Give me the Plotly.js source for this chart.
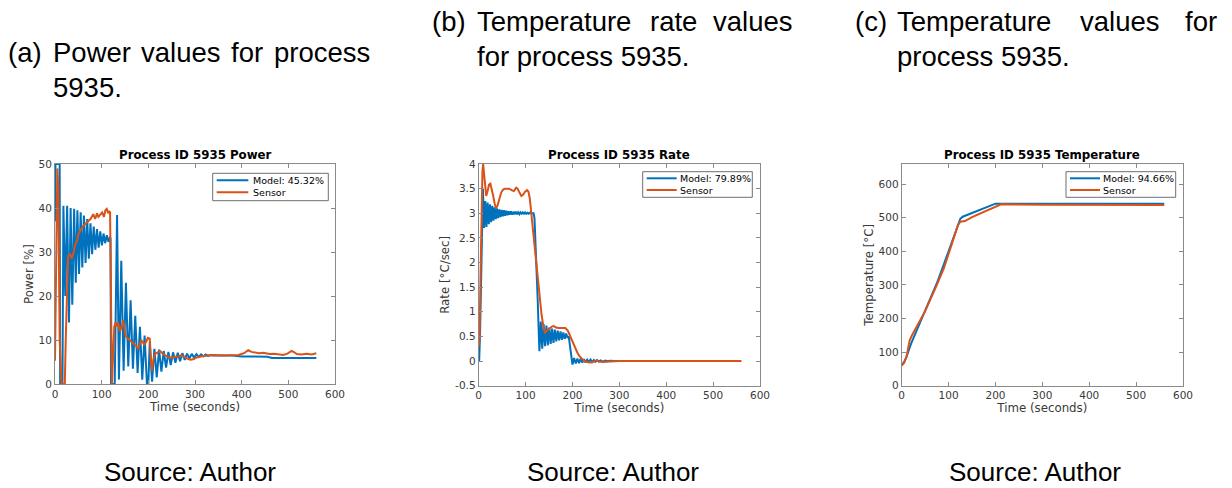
<!DOCTYPE html>
<html><head><meta charset="utf-8">
<script src="https://cdn.plot.ly/plotly-3.0.1.min.js"></script>
<style>html,body{margin:0;padding:0;background:#fff;}#chart{width:1232px;height:488px;}</style>
</head><body><div id="chart"></div>
<script>
// ---------- data ----------
const powerModelTime = [0,1,10,11,16,18,22,26,30,33.5,37,41,44.5,48,51.5,55,58.5,62,65.5,69,72.5,76,79.5,83,86.5,90,93.5,97,100.5,104,107.5,111,114.5,118,119,120,128,133,137,142,147,152,157,162,167,172,177,182,187,192,197,200,203,208,213,218,223,228,233,238,243,248,253,258,263,268,273,278,283,288,293,298,303,308,313,318,323,328,333,340,380,400,455,465,560];
const powerModelValue = [37,50,50,0,0,40.5,20,40.5,14,40,18,39.8,23,39.5,25,39,26.5,38.3,27.5,37.5,28.5,36.5,29.5,35.8,30.5,35.2,31,34.7,31.5,34.2,32,33.8,32.3,33.5,33,0,0,38.4,1,28,3,23,4,19,3.5,15.5,2.5,13,1,11,0,0,9.5,0.5,8,1.5,7.8,2.8,7.5,3.7,7.3,4.3,7.2,4.8,7.1,5.2,7.0,5.5,6.9,5.8,6.85,6.0,6.8,6.15,6.75,6.3,6.7,6.4,6.6,6.5,6.5,6.25,6.2,5.9,5.9];
const powerSensorTime = [0,3,5,7,10,14,21,23,26,28,32,36,40,43,47,50,55,61,66,71,76,82,86,90,93,97,101,105,108,111,114,116,118,122,124,127,130,132,135,139,143,146,149,151,155,160,165,171,175,178,182,185,188,191,195,199,203,207,211,215,218,225,230,236,243,250,257,264,270,276,282,290,296,305,315,325,340,361,380,393,405,414,421,428,437,446,453,460,470,478,489,498,507,513,518,528,539,550,560];
const powerSensorValue = [5.3,40,49,45,10,0,0,10,25,29,29.5,28.5,30,31.5,32.5,34,35,36,36.5,37,37.5,38.6,37.5,38.8,38,38.5,39,38,39.5,39.8,38.8,39.3,39,0,6,13,14,13,14,12,13,14.5,12.5,11,10.5,10,9.5,9,8.5,8,9,10,9.5,9,9.5,10.5,10.3,3,5.5,7,7,7.5,7,6.5,6.2,6,6.2,6.2,6.5,6.3,5.8,5.5,5.6,6.1,6.3,6.4,6.6,6.5,6.6,6.6,7.0,7.7,7.3,7.2,7.0,7.1,6.9,6.8,6.9,6.8,6.6,6.9,7.5,7.2,6.8,6.7,6.9,6.7,7.0];

const rateModelTime = [0,1,3,6,9,11.5,14,16.5,19,21.5,24,26.5,29,31.5,34,36.5,39,41.5,44,46.5,49,51.5,54,56.5,59,61.5,64,66.5,69,71.5,74,76.5,79,81.5,84,86.5,89,91.5,94,96.5,99,101.5,104,106.5,109,111.5,117,119,122,124,126,128,129.5,132.5,135.5,138.5,141.5,144.5,147.5,150.5,153.5,156.5,159.5,162.5,165.5,168.5,171.5,174.5,177.5,180.5,183.5,186.5,189.5,192,195,198,200,203.5,207,210.5,214,217.5,221,224.5,228,231.5,235,238.5,242,245.5,249,252.5,256,260,265,270,275,280,290,560];
const rateModelValue = [0.25,0,0.6,2.2,3.5,2.7,3.25,2.72,3.22,2.78,3.18,2.82,3.15,2.85,3.12,2.88,3.1,2.9,3.08,2.92,3.07,2.94,3.06,2.95,3.05,2.96,3.04,2.97,3.04,2.97,3.03,2.98,3.03,2.98,3.02,2.98,3.02,2.99,3.02,2.99,3.02,2.99,3.01,2.99,3.01,3.0,3.0,2.9,2.3,1.7,1.2,0.6,0.2,0.8,0.25,0.75,0.3,0.72,0.32,0.68,0.35,0.66,0.37,0.64,0.4,0.62,0.42,0.6,0.43,0.58,0.45,0.56,0.47,0.5,0.25,0.0,-0.07,0.06,-0.05,0.05,-0.04,0.05,-0.03,0.04,-0.03,0.03,-0.02,0.03,-0.02,0.02,-0.015,0.02,-0.01,0.015,-0.01,0.01,-0.005,0.005,0,0];
const rateSensorTime = [0,2,4,6,8,9.5,11,13,16,19,22,25,28,31,34,37,40,44,48,52,56,60,65,70,75,80,83,87,91,95,99,103,106,109,112,115,118,122,126,130,134,138,141,144,148,152,156,160,165,170,175,180,185,190,195,200,205,210,215,220,225,232,240,248,252,256,265,280,300,560];
const rateSensorValue = [0.3,0.5,1.8,3.2,3.85,4.0,3.85,3.5,3.35,3.45,3.58,3.6,3.5,3.35,3.2,3.1,3.15,3.3,3.42,3.48,3.5,3.5,3.5,3.47,3.45,3.52,3.5,3.42,3.35,3.38,3.44,3.47,3.44,3.3,3.0,2.75,2.45,2.08,1.7,1.3,0.95,0.7,0.58,0.6,0.64,0.68,0.7,0.71,0.68,0.67,0.67,0.66,0.67,0.62,0.5,0.38,0.28,0.18,0.1,0.04,0.0,-0.02,-0.03,0.0,0.02,-0.01,-0.02,-0.01,0,0];

const tempModelTime = [0,5,10,20,30,50,75,100,125,130,160,200,560];
const tempModelValue = [62,70,85,125,158,222,305,400,497,503,520,542,542];
const tempSensorTime = [0,5,10,17,22,30,50,75,90,100,120,125,135,150,175,200,212,300,560];
const tempSensorValue = [60,68,85,135,150,172,222,300,350,392,478,488,490,502,517,532,540,539,538];

const seriesNames = ['Model: 45.32%','Model: 79.89%','Model: 94.66%','Sensor'];
const panelTitles = ['Process ID 5935 Power','Process ID 5935 Rate','Process ID 5935 Temperature'];
const yTitles = ['Power [%]','Rate [°C/sec]','Temperature [°C]'];
const xTicks = [0,100,200,300,400,500,600];
const powerTicks = [0,10,20,30,40,50];
const rateTicks = [-0.5,0,0.5,1,1.5,2,2.5,3,3.5,4];
const rateTickText = ['-0.5','0','0.5','1','1.5','2','2.5','3','3.5','4'];
const tempTicks = [0,100,200,300,400,500,600];

// ---------- layout helpers ----------
const W = 1232, H = 488;
const px = x => x / W;
const py = y => 1 - y / H;
const BLUE = '#0072BD', ORANGE = '#D95319';
const AXC = '#8a8a8a', TXT = '#3a3a3a';

const panels = [
  {x0:55, x1:335, y0:164, y1:384},
  {x0:478.7, x1:760, y0:164, y1:385.7},
  {x0:901.7, x1:1183, y0:164, y1:385.7}
];

function xAxis(i){
  const p = panels[i];
  return {domain:[px(p.x0), px(p.x1)], range:[0,600], tickvals:xTicks, ticks:'inside', ticklen:4,
    tickcolor:AXC, showline:true, linecolor:AXC, linewidth:1, mirror:'ticks', showgrid:false, zeroline:false,
    tickfont:{family:'DejaVu Sans', size:10.5, color:TXT}, fixedrange:true,
    anchor: i===0?'y':'y'+(i+1),
    title:{text:'Time (seconds)', font:{family:'DejaVu Sans', size:11.8, color:TXT}, standoff:2}};
}
function yAxis(i, range, tv, tt){
  const p = panels[i];
  const a = {domain:[py(p.y1), py(p.y0)], range:range, tickvals:tv, ticks:'inside', ticklen:4,
    tickcolor:AXC, showline:true, linecolor:AXC, linewidth:1, mirror:'ticks', showgrid:false, zeroline:false,
    tickfont:{family:'DejaVu Sans', size:10.5, color:TXT}, fixedrange:true,
    anchor: i===0?'x':'x'+(i+1),
    title:{text:yTitles[i], font:{family:'DejaVu Sans', size:11.8, color:TXT}, standoff:2}};
  if(tt) a.ticktext = tt;
  return a;
}

const traces = [
  {x:powerModelTime, y:powerModelValue, name:seriesNames[0], xaxis:'x', yaxis:'y'},
  {x:powerSensorTime, y:powerSensorValue, name:seriesNames[3], xaxis:'x', yaxis:'y'},
  {x:rateModelTime, y:rateModelValue, name:seriesNames[1], xaxis:'x2', yaxis:'y2'},
  {x:rateSensorTime, y:rateSensorValue, name:seriesNames[3], xaxis:'x2', yaxis:'y2'},
  {x:tempModelTime, y:tempModelValue, name:seriesNames[2], xaxis:'x3', yaxis:'y3'},
  {x:tempSensorTime, y:tempSensorValue, name:seriesNames[3], xaxis:'x3', yaxis:'y3'}
].map((t,k)=>Object.assign(t,{type:'scatter', mode:'lines', showlegend:false, hoverinfo:'skip',
   line:{color: k%2===0?BLUE:ORANGE, width:2}}));

const annotations = [];
const shapes = [];
function txt(x, y, s, size, opts){
  annotations.push(Object.assign({xref:'paper', yref:'paper', x:px(x), y:py(y), text:s, showarrow:false,
    xanchor:'left', yanchor:'middle', borderpad:0, font:{family:'Liberation Sans', size:size, color:'#000'}}, opts||{}));
}
// captions (justified words placed individually)
const capSize = 27.5;
txt(7,53,'(a)',capSize); txt(52,53,'Power',capSize); txt(140.4,53,'values',capSize); txt(230.3,53,'for',capSize); txt(272.7,53,'process',capSize);
txt(52,87,'5935.',capSize);
txt(431,22,'(b)',capSize); txt(476,22,'Temperature',capSize); txt(649,22,'rate',capSize); txt(712.4,22,'values',capSize);
txt(476,56,'for process 5935.',capSize);
txt(854,22,'(c)',capSize); txt(896,22,'Temperature',capSize); txt(1079,22,'values',capSize); txt(1184,22,'for',capSize);
txt(896,56,'process 5935.',capSize);
// sources
[190,613,1035].forEach(cx=>txt(cx,472,'Source: Author',26,{xanchor:'center'}));
// panel titles
panels.forEach((p,i)=>txt((p.x0+p.x1)/2,155,panelTitles[i],11.8,{xanchor:'center',
  font:{family:'DejaVu Sans', size:11.8, color:'#000', weight:'bold'}, text:'<b>'+panelTitles[i]+'</b>'}));
// legends
const legends = [
  {bx0:212.7, bx1:328.3, by0:173.3, by1:200.7, lx0:216.7, lx1:248.3, ly1:180.3, ly2:192.3, tx:251.7, name:seriesNames[0]},
  {bx0:642.7, bx1:752.3, by0:171.7, by1:197.3, lx0:646.7, lx1:676.7, ly1:178.3, ly2:190, tx:679.3, name:seriesNames[1]},
  {bx0:1066, bx1:1175.7, by0:171.7, by1:197.3, lx0:1070, lx1:1100, ly1:178.3, ly2:190, tx:1102.3, name:seriesNames[2]}
];
legends.forEach(L=>{
  shapes.push({type:'rect', xref:'paper', yref:'paper', x0:px(L.bx0), x1:px(L.bx1), y0:py(L.by1), y1:py(L.by0),
    line:{color:'#6e6e6e', width:1}, fillcolor:'#fff', layer:'above'});
  shapes.push({type:'line', xref:'paper', yref:'paper', x0:px(L.lx0), x1:px(L.lx1), y0:py(L.ly1), y1:py(L.ly1),
    line:{color:BLUE, width:2}, layer:'above'});
  shapes.push({type:'line', xref:'paper', yref:'paper', x0:px(L.lx0), x1:px(L.lx1), y0:py(L.ly2), y1:py(L.ly2),
    line:{color:ORANGE, width:2}, layer:'above'});
  txt(L.tx, L.ly1, L.name, 9.5, {font:{family:'DejaVu Sans', size:9.5, color:'#000'}});
  txt(L.tx, L.ly2, seriesNames[3], 9.5, {font:{family:'DejaVu Sans', size:9.5, color:'#000'}});
});

const layout = {
  width:W, height:H, margin:{l:0,r:0,t:0,b:0}, paper_bgcolor:'#fff', plot_bgcolor:'#fff', showlegend:false,
  xaxis:xAxis(0), xaxis2:xAxis(1), xaxis3:xAxis(2),
  yaxis:yAxis(0,[0,50],powerTicks), yaxis2:yAxis(1,[-0.5,4],rateTicks,rateTickText), yaxis3:yAxis(2,[0,660],tempTicks),
  annotations:annotations, shapes:shapes
};
Plotly.newPlot('chart', traces, layout, {staticPlot:true, displayModeBar:false});
</script></body></html>
